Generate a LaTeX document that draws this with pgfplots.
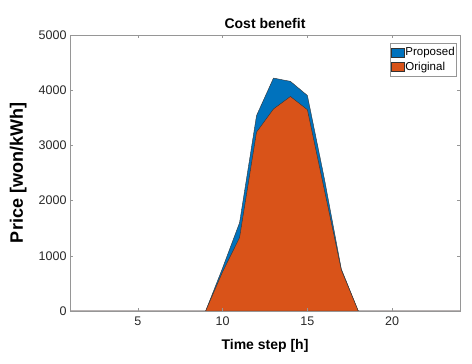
\documentclass[border=0pt]{standalone}
\usepackage{fontspec}
\setmainfont{Liberation Sans}
\usepackage{pgfplots}
\pgfplotsset{compat=1.18}
\definecolor{mblue}{RGB}{0,114,189}
\definecolor{morange}{RGB}{217,83,25}
\definecolor{axgray}{RGB}{150,150,150}
\definecolor{txt}{RGB}{40,40,40}
\begin{document}
\begin{tikzpicture}[x=1pt,y=1pt]
\useasboundingbox (0,0) rectangle (472,364);
\begin{axis}[
  at={(70pt,53pt)}, anchor=south west,
  width=390pt, height=276pt, scale only axis,
  xmin=1, xmax=24, ymin=0, ymax=5000,
  xtick={5,10,15,20}, ytick={0,1000,2000,3000,4000,5000},
  scaled y ticks=false,
  tick align=inside, major tick length=3pt,
  axis on top,
  axis line style={axgray}, tick style={axgray, line width=0.5pt},
  /pgf/number format/assume math mode=true,
  /pgf/number format/1000 sep={},
  ticklabel style={font=\fontsize{12.5}{14}\selectfont, text=txt},
  xticklabel style={yshift=-2pt},
  every axis title shift=0pt,
  title={\textbf{Cost benefit}},
  title style={font=\fontsize{14}{16}\selectfont, at={(axis description cs:0.5,1.043)}, anchor=center},
  xlabel={\textbf{Time step [h]}},
  xlabel style={font=\fontsize{14}{16}\selectfont, at={(axis description cs:0.5,-0.127)}, anchor=center},
  ylabel={\textbf{Price  [won/kWh]}},
  ylabel style={font=\fontsize{18}{20}\selectfont, at={(axis description cs:-0.133,0.5)}, anchor=center},
  legend style={at={(axis description cs:0.992,0.971)}, anchor=north east,
    font=\fontsize{11.5}{12}\selectfont, draw=axgray, inner xsep=1pt, inner ysep=2pt, row sep=0pt,
    nodes={inner xsep=1pt, inner ysep=2.3pt},
    /tikz/every even column/.append style={column sep=0pt},
    cells={anchor=west}},
  legend cell align=left,
  legend image code/.code={\draw[#1] (0pt,-4.5pt) rectangle (13pt,4.5pt);},
]
\addplot[fill=mblue, draw=black!80, line width=0.4pt] coordinates {
(1,0)(2,0)(3,0)(4,0)(5,0)(6,0)(7,0)(8,0)(9,0)(10,780)(11,1600)(12,3540)(13,4220)(14,4160)(15,3904)(16,2400)(17,760)(18,0)(19,0)(20,0)(21,0)(22,0)(23,0)(24,0)
} \closedcycle;
\addlegendentry{Proposed}
\addplot[fill=morange, draw=black!80, line width=0.4pt] coordinates {
(1,0)(2,0)(3,0)(4,0)(5,0)(6,0)(7,0)(8,0)(9,0)(10,710)(11,1330)(12,3240)(13,3660)(14,3886)(15,3646)(16,2195)(17,745)(18,0)(19,0)(20,0)(21,0)(22,0)(23,0)(24,0)
} \closedcycle;
\addlegendentry{Original}
\end{axis}
\end{tikzpicture}
\end{document}
